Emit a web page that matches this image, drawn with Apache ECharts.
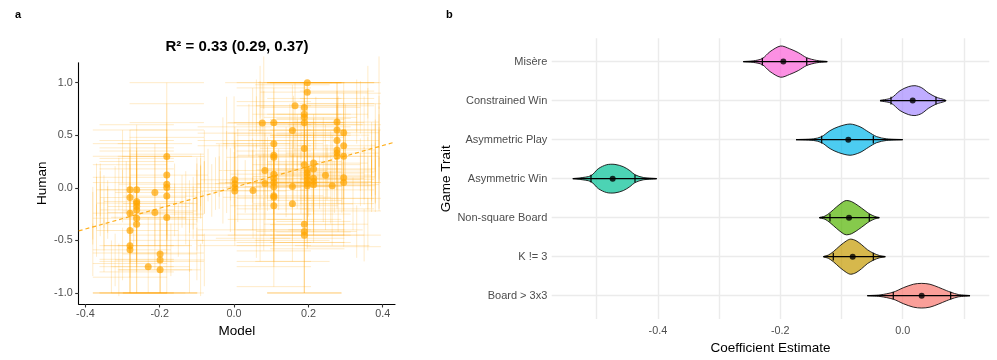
<!DOCTYPE html>
<html>
<head>
<meta charset="utf-8">
<script src="https://cdn.jsdelivr.net/npm/echarts@6/dist/echarts.min.js"></script>
<style>
  html, body { margin: 0; padding: 0; background: #fff; }
  #chart { width: 997px; height: 360px; }
</style>
</head>
<body>
<div id="chart"></div>
<script>
  // ---- panel a: model vs human, with 95% intervals on both axes ----
  const modelX = [
    -0.280, -0.280, -0.280, -0.280, -0.280, -0.280,
    -0.262, -0.262, -0.262, -0.262, -0.262, -0.262, -0.262,
    -0.231,
    -0.213, -0.213,
    -0.199, -0.199, -0.199,
    -0.181, -0.181, -0.181, -0.181, -0.181, -0.181,
    0.002, 0.002, 0.002, 0.002,
    0.051,
    0.076,
    0.083, 0.083,
    0.107, 0.107, 0.107, 0.107, 0.107, 0.107, 0.107, 0.107, 0.107, 0.107, 0.107,
    0.157, 0.157, 0.157,
    0.164,
    0.189, 0.189, 0.189, 0.189, 0.189, 0.189, 0.189, 0.189, 0.189,
    0.197, 0.197, 0.197, 0.197, 0.197, 0.197, 0.197, 0.197,
    0.214, 0.214, 0.214, 0.214, 0.214,
    0.246,
    0.264,
    0.277, 0.277, 0.277, 0.277, 0.277, 0.277,
    0.295, 0.295, 0.295, 0.295, 0.295
  ]
  const humanY = [
    -0.019, -0.092, -0.241, -0.406, -0.550, -0.590,
    -0.019, -0.130, -0.146, -0.178, -0.210, -0.289, -0.346,
    -0.750,
    -0.044, -0.235,
    -0.629, -0.686, -0.780,
    0.298, 0.121, 0.035, 0.003, -0.079, -0.283,
    0.076, 0.038, 0.003, -0.030,
    -0.025,
    0.616,
    0.165, 0.040,
    0.620, 0.420, 0.310, 0.290, 0.130, 0.090, 0.050, 0.010, -0.076, -0.090, -0.170,
    0.546, 0.013, -0.152,
    0.780,
    0.765, 0.700, 0.670, 0.620, 0.375, 0.220, -0.346, -0.416, -0.450,
    1.000, 0.910, 0.170, 0.140, 0.108, 0.076, 0.044, 0.020,
    0.235, 0.180, 0.090, 0.060, 0.030,
    0.120,
    0.020,
    0.625, 0.550, 0.450, 0.360, 0.330, 0.300,
    0.524, 0.400, 0.300, 0.095, 0.050
  ]
  const modelLo = [
    -0.37, -0.36, -0.38, -0.37, -0.35, -0.38,
    -0.36, -0.35, -0.37, -0.34, -0.36, -0.38, -0.35,
    -0.33,
    -0.32, -0.34,
    -0.30, -0.32, -0.31,
    -0.30, -0.28, -0.31, -0.29, -0.30, -0.27,
    -0.09, -0.10, -0.08, -0.09,
    -0.06,
    -0.02,
    -0.04, -0.05,
    0.00, -0.03, 0.01, -0.02, -0.01, 0.00, -0.04, -0.02, 0.01, -0.03, -0.01,
    0.04, 0.03, 0.05,
    0.06,
    0.07, 0.05, 0.08, 0.06, 0.07, 0.05, 0.08, 0.06, 0.07,
    0.08, 0.07, 0.06, 0.09, 0.05, 0.08, 0.07, 0.06,
    0.09, 0.08, 0.10, 0.07, 0.09,
    0.12,
    0.14,
    0.16, 0.15, 0.17, 0.16, 0.14, 0.15,
    0.18, 0.17, 0.19, 0.18, 0.17
  ]
  const modelHi = [
    -0.16, -0.13, -0.18, -0.15, -0.12, -0.17,
    -0.10, -0.14, -0.11, -0.12, -0.16, -0.13, -0.10,
    -0.12,
    -0.09, -0.11,
    -0.10, -0.08, -0.09,
    -0.08, -0.07, -0.09, -0.08, -0.10, -0.085,
    0.16, 0.12, 0.18, 0.14,
    0.20,
    0.22,
    0.25, 0.21,
    0.28, 0.24, 0.30, 0.26, 0.25, 0.29, 0.23, 0.27, 0.24, 0.26, 0.28,
    0.30, 0.29, 0.32,
    0.33,
    0.34, 0.36, 0.33, 0.35, 0.37, 0.34, 0.36, 0.33, 0.35,
    0.39, 0.36, 0.37, 0.35, 0.38, 0.34, 0.36, 0.37,
    0.36, 0.38, 0.35, 0.37, 0.39,
    0.37,
    0.38,
    0.39, 0.38, 0.39, 0.38, 0.39, 0.37,
    0.39, 0.38, 0.39, 0.38, 0.39
  ]
  const humanLo = [
    -0.62, -0.72, -0.85, -1.0, -1.0, -1.0,
    -0.55, -0.70, -0.68, -0.80, -0.75, -1.0, -1.0,
    -1.0,
    -0.55, -0.78,
    -1.0, -1.0, -1.0,
    -0.25, -0.45, -0.50, -0.62, -0.70, -1.0,
    -0.45, -0.50, -0.40, -0.55,
    -0.48,
    0.05,
    -0.30, -0.45,
    0.05, -0.10, -0.20, -0.25, -0.40, -0.52, -0.60, -0.55, -0.70, -0.75, -0.94,
    0.05, -0.50, -0.70,
    0.30,
    0.25, 0.22, 0.18, 0.12, -0.12, -0.30, -1.0, -1.0, -1.0,
    0.62, 0.50, -0.35, -0.40, -0.45, -0.48, -0.52, -0.58,
    -0.25, -0.32, -0.42, -0.45, -0.52,
    -0.40,
    -0.55,
    0.15, 0.08, -0.02, -0.10, -0.15, -0.20,
    0.05, -0.10, -0.22, -0.45, -0.56
  ]
  const humanHi = [
    0.55, 0.42, 0.30, 0.22, 0.05, 0.10,
    0.60, 0.45, 0.38, 0.35, 0.28, 0.25, 0.18,
    -0.28,
    0.42, 0.30,
    -0.15, -0.22, -0.30,
    1.0, 0.80, 0.62, 0.55, 0.48, 0.32,
    0.52, 0.58, 0.45, 0.40,
    0.42,
    1.0,
    0.62, 0.52,
    1.0, 0.95, 0.82, 0.78, 0.60, 0.55, 0.50, 0.45, 0.40, 0.35, 0.30,
    0.98, 0.45, 0.32,
    1.0,
    1.0, 1.0, 1.0, 1.0, 0.85, 0.70, 0.15, 0.05, 0.02,
    1.0, 1.0, 0.65, 0.62, 0.60, 0.55, 0.50, 0.48,
    0.70, 0.66, 0.58, 0.52, 0.50,
    0.60,
    0.50,
    1.0, 1.0, 0.92, 0.85, 0.80, 0.78,
    1.0, 0.90, 0.80, 0.60, 0.55
  ]
  const regLine = [[-0.418, -0.41], [0.433, 0.435]] // dashed fit, end to end
  const xTicksA = [-0.4, -0.2, 0, 0.2, 0.4]
  const yTicksA = [-1, -0.5, 0, 0.5, 1]

  // ---- panel b: coefficient posteriors per game trait (bottom to top) ----
  const traits = ['Board > 3x3', 'K != 3', 'Non-square Board', 'Asymmetric Win', 'Asymmetric Play', 'Constrained Win', 'Misère']
  const traitColors = ['#F8766D', '#C49A00', '#53B400', '#00C094', '#00B6EB', '#A58AFF', '#FB61D7']
  const estimates = [0.031, -0.0817, -0.0877, -0.4739, -0.0889, 0.0163, -0.195]
  const ciLo = [-0.0154, -0.1134, -0.1188, -0.5093, -0.1324, -0.0191, -0.2293]
  const ciHi = [0.0784, -0.048, -0.0546, -0.4374, -0.048, 0.0544, -0.1568]
  const rangeLo = [-0.0578, -0.1297, -0.1363, -0.539, -0.1743, -0.0371, -0.2605]
  const rangeHi = [0.11, -0.0284, -0.0382, -0.402, 0.0, 0.0707, -0.1233]
  // violin outline: sample positions and half-widths (in rows)
  const violinX = [
    [-0.0578, -0.0371, -0.0154, 0.001, 0.0173, 0.031, 0.0446, 0.0582, 0.0719, 0.0784, 0.0908, 0.11],
    [-0.1297, -0.1216, -0.1134, -0.1025, -0.0915, -0.085, -0.0763, -0.067, -0.0578, -0.048, -0.0382, -0.0284],
    [-0.1363, -0.127, -0.1188, -0.1078, -0.0971, -0.0915, -0.0833, -0.0725, -0.0616, -0.0546, -0.0453, -0.0382],
    [-0.539, -0.527, -0.5093, -0.4974, -0.4837, -0.4701, -0.4565, -0.4456, -0.4374, -0.4239, -0.402],
    [-0.1743, -0.146, -0.1324, -0.1188, -0.1052, -0.0861, -0.0698, -0.0562, -0.0425, -0.0261, 0],
    [-0.0371, -0.0191, -0.0044, 0.0092, 0.0201, 0.031, 0.0418, 0.0544, 0.0707],
    [-0.2605, -0.244, -0.2294, -0.2168, -0.1995, -0.1848, -0.1706, -0.1569, -0.1405, -0.1233]
  ]
  const violinW = [
    [0, 0.02, 0.09, 0.204, 0.293, 0.316, 0.293, 0.217, 0.128, 0.09, 0.03, 0],
    [0, 0.04, 0.128, 0.28, 0.41, 0.45, 0.41, 0.306, 0.18, 0.09, 0.03, 0],
    [0, 0.04, 0.128, 0.28, 0.41, 0.44, 0.41, 0.306, 0.18, 0.10, 0.03, 0],
    [0, 0.02, 0.077, 0.255, 0.357, 0.365, 0.306, 0.204, 0.10, 0.03, 0],
    [0, 0.02, 0.077, 0.23, 0.33, 0.40, 0.33, 0.20, 0.077, 0.02, 0],
    [0, 0.064, 0.255, 0.357, 0.383, 0.33, 0.20, 0.09, 0],
    [0, 0.02, 0.077, 0.255, 0.40, 0.33, 0.23, 0.10, 0.03, 0]
  ]
  const xGridB = [-0.5, -0.4, -0.3, -0.2, -0.1, 0, 0.1]
  const xTicksB = [-0.4, -0.2, 0]
  const rows = [0, 1, 2, 3, 4, 5, 6]

  const FONT = '"Liberation Sans", Arial, sans-serif'
  const GREY = '#4d4d4d'
  const ORANGE = 'rgba(255,165,0,0.88)'
  const BAR = 'rgba(255,165,0,0.22)'

  const chart = echarts.init(document.getElementById('chart'))

  const seg = (api, a, b, style) => {
    const p = api.coord(a)
    const q = api.coord(b)
    return { type: 'line', shape: { x1: p[0], y1: p[1], x2: q[0], y2: q[1] }, style: style }
  }

  const option = {
    animation: false,
    backgroundColor: '#fff',
    textStyle: { fontFamily: FONT },
    graphic: [
      { type: 'text', x: 15, y: 14.5, style: { text: 'a', font: 'bold 11px ' + FONT, fill: '#000', textAlign: 'left', textVerticalAlign: 'middle' } },
      { type: 'text', x: 446, y: 14.5, style: { text: 'b', font: 'bold 11px ' + FONT, fill: '#000', textAlign: 'left', textVerticalAlign: 'middle' } },
      { type: 'text', x: 237, y: 47, style: { text: 'R² = 0.33 (0.29, 0.37)', font: 'bold 15px ' + FONT, fill: '#000', textAlign: 'center', textVerticalAlign: 'middle' } }
    ],
    grid: [
      { left: 78.7, right: 602, top: 62.7, bottom: 56 },
      { left: 551.7, right: 7.7, top: 38.2, bottom: 39.8 }
    ],
    xAxis: [
      {
        gridIndex: 0, type: 'value', min: -0.418, max: 0.433,
        axisLine: { onZero: false, lineStyle: { color: '#000', width: 1.1 } },
        axisTick: { customValues: xTicksA, length: 3.5, lineStyle: { color: '#333', width: 1.1 } },
        axisLabel: { customValues: xTicksA, formatter: v => v.toFixed(1), color: GREY, fontSize: 10.8, margin: 4.5 },
        splitLine: { show: false },
        name: 'Model', nameLocation: 'middle', nameGap: 18,
        nameTextStyle: { color: '#000', fontSize: 13.5, verticalAlign: 'top' }
      },
      {
        gridIndex: 1, type: 'value', min: -0.5735, max: 0.1415,
        axisLine: { show: false },
        axisTick: { show: false, customValues: xGridB },
        axisLabel: { customValues: xTicksB, formatter: v => v.toFixed(1), color: GREY, fontSize: 10.8, margin: 6 },
        splitLine: { show: true, lineStyle: { color: '#ebebeb', width: 1.4 } },
        name: 'Coefficient Estimate', nameLocation: 'middle', nameGap: 19,
        nameTextStyle: { color: '#000', fontSize: 13.5, verticalAlign: 'top' }
      }
    ],
    yAxis: [
      {
        gridIndex: 0, type: 'value', min: -1.105, max: 1.19,
        axisLine: { onZero: false, lineStyle: { color: '#000', width: 1.1 } },
        axisTick: { customValues: yTicksA, length: 3.5, lineStyle: { color: '#333', width: 1.1 } },
        axisLabel: { customValues: yTicksA, formatter: v => v.toFixed(1), color: GREY, fontSize: 10.8, margin: 6 },
        splitLine: { show: false },
        name: 'Human', nameLocation: 'middle', nameGap: 29,
        nameTextStyle: { color: '#000', fontSize: 13.5 }
      },
      {
        gridIndex: 1, type: 'value', min: -0.6, max: 6.6,
        axisLine: { show: false },
        axisTick: { show: false, customValues: rows },
        axisLabel: { customValues: rows, formatter: v => traits[Math.round(v)], color: GREY, fontSize: 11, margin: 4.4 },
        splitLine: { show: true, lineStyle: { color: '#ebebeb', width: 1.4 } },
        name: 'Game Trait', nameLocation: 'middle', nameGap: 96,
        nameTextStyle: { color: '#000', fontSize: 13.5 }
      }
    ],
    series: [
      {
        // error bars with caps, both directions
        type: 'custom', xAxisIndex: 0, yAxisIndex: 0,
        data: modelX.map((x, i) => [x, humanY[i], modelLo[i], modelHi[i], humanLo[i], humanHi[i]]),
        encode: { x: [0, 2, 3], y: [1, 4, 5] },
        renderItem: (params, api) => {
          const x = api.value(0), y = api.value(1)
          const xlo = api.value(2), xhi = api.value(3), ylo = api.value(4), yhi = api.value(5)
          const st = { stroke: BAR, lineWidth: 1 }
          const capW = 0.1, capH = 0.25
          return {
            type: 'group',
            children: [
              seg(api, [x, ylo], [x, yhi], st),
              seg(api, [x - capW, ylo], [x + capW, ylo], st),
              seg(api, [x - capW, yhi], [x + capW, yhi], st),
              seg(api, [xlo, y], [xhi, y], st),
              seg(api, [xlo, y - capH], [xlo, y + capH], st),
              seg(api, [xhi, y - capH], [xhi, y + capH], st)
            ]
          }
        },
        z: 1
      },
      {
        type: 'line', xAxisIndex: 0, yAxisIndex: 0,
        data: regLine, showSymbol: false, symbol: 'none',
        lineStyle: { color: ORANGE, width: 1.2, type: [4, 3] },
        z: 2
      },
      {
        type: 'scatter', xAxisIndex: 0, yAxisIndex: 0,
        data: modelX.map((x, i) => [x, humanY[i]]),
        symbolSize: 7,
        itemStyle: { color: ORANGE },
        z: 3
      },
      {
        // violins
        type: 'custom', xAxisIndex: 1, yAxisIndex: 1,
        data: rows.map(i => [estimates[i], i]),
        encode: { x: 0, y: 1 },
        renderItem: (params, api) => {
          const i = params.dataIndex
          const xs = violinX[i], ws = violinW[i]
          const top = xs.map((x, k) => api.coord([x, i + ws[k]]))
          const bottom = xs.map((x, k) => api.coord([x, i - ws[k]])).slice(1, -1).reverse()
          return {
            type: 'polygon',
            shape: { points: top.concat(bottom), smooth: 0.3 },
            style: { fill: echarts.color.modifyAlpha(traitColors[i], 0.7), stroke: '#111', lineWidth: 0.9 }
          }
        },
        z: 2
      },
      {
        // full range line and interval with caps
        type: 'custom', xAxisIndex: 1, yAxisIndex: 1,
        data: rows.map(i => [i, rangeLo[i], rangeHi[i], ciLo[i], ciHi[i]]),
        encode: { x: [1, 2, 3, 4], y: 0 },
        renderItem: (params, api) => {
          const r = api.value(0)
          const st = { stroke: '#000', lineWidth: 1.2 }
          const h = 0.1
          return {
            type: 'group',
            children: [
              seg(api, [api.value(1), r], [api.value(2), r], st),
              seg(api, [api.value(3), r - h], [api.value(3), r + h], st),
              seg(api, [api.value(4), r - h], [api.value(4), r + h], st)
            ]
          }
        },
        z: 3
      },
      {
        type: 'scatter', xAxisIndex: 1, yAxisIndex: 1,
        data: rows.map(i => [estimates[i], i]),
        symbolSize: 6,
        itemStyle: { color: '#000' },
        z: 4
      }
    ]
  }
  chart.setOption(option)
</script>
</body>
</html>
